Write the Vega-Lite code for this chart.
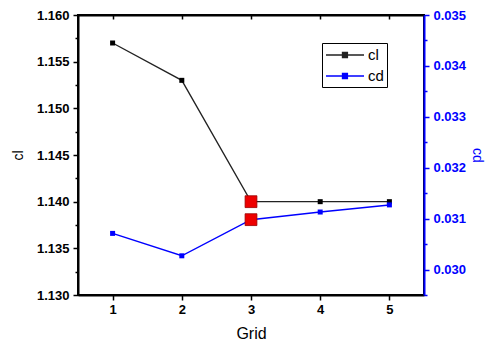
{
  "$schema": "https://vega.github.io/schema/vega-lite/v6.json",
  "width": 346,
  "height": 280,
  "autosize": {"type": "none"},
  "padding": {"left": 78, "top": 15, "right": 64, "bottom": 53},
  "background": "white",
  "config": {
    "view": {"stroke": "black", "strokeWidth": 2},
    "axis": {
      "grid": false,
      "labelFont": "Liberation Sans",
      "labelFontWeight": "bold",
      "labelFontSize": 13,
      "titleFont": "Liberation Sans",
      "titleFontWeight": "normal",
      "domainWidth": 2,
      "tickWidth": 1.5
    }
  },
  "data": {
    "values": [
      {"grid": 1, "cl": 1.157, "cd": 0.03071},
      {"grid": 2, "cl": 1.153, "cd": 0.03027},
      {"grid": 3, "cl": 1.140, "cd": 0.03098},
      {"grid": 4, "cl": 1.140, "cd": 0.03113},
      {"grid": 5, "cl": 1.140, "cd": 0.03127}
    ]
  },
  "layer": [
    {
      "encoding": {
        "x": {
          "field": "grid",
          "type": "quantitative",
          "scale": {"domain": [0.5, 5.5], "nice": false, "zero": false},
          "axis": {
            "title": "Grid",
            "titleFontSize": 16,
            "titlePadding": 9,
            "values": [1, 2, 3, 4, 5],
            "format": "d",
            "domainColor": "black",
            "tickColor": "black",
            "tickSize": 5,
            "labelPadding": 3
          }
        },
        "y": {
          "field": "cl",
          "type": "quantitative",
          "scale": {"domain": [1.13, 1.16], "nice": false, "zero": false},
          "axis": {
            "title": "cl",
            "titleFontSize": 14,
            "titlePadding": 11,
            "values": [1.13, 1.1325, 1.135, 1.1375, 1.14, 1.1425, 1.145, 1.1475, 1.15, 1.1525, 1.155, 1.1575, 1.16],
            "labelExpr": "abs(datum.value*200 - round(datum.value*200)) < 0.01 ? format(datum.value, '.3f') : ''",
            "tickSize": {"condition": {"test": "abs(datum.value*200 - round(datum.value*200)) < 0.01", "value": 5}, "value": 3},
            "domainColor": "black",
            "tickColor": "black",
            "labelPadding": 4
          }
        }
      },
      "layer": [
        {
          "mark": {"type": "line", "strokeWidth": 1.3},
          "encoding": {
            "color": {
              "datum": "cl",
              "scale": {"domain": ["cl", "cd"], "range": ["#222222", "blue"]},
              "legend": {
                "title": null,
                "orient": "none",
                "legendX": 244,
                "legendY": 28,
                "padding": 3,
                "strokeColor": "black",
                "fillColor": "white",
                "labelFont": "Liberation Sans",
                "labelFontSize": 15,
                "labelOffset": 25,
                "rowPadding": 4,
                "symbolSize": 256,
                "symbolStrokeWidth": 1.3,
                "symbolType": "M-1,0H3.75M1.06,-0.31H1.68V0.31H1.06Z",
                "encode": {"symbols": {"update": {"fill": {"scale": "color", "field": "value"}}}}
              }
            }
          }
        },
        {
          "mark": {"type": "point", "shape": "square", "filled": true, "size": 25, "color": "black", "opacity": 1}
        },
        {
          "transform": [{"filter": "datum.grid == 3"}],
          "mark": {"type": "point", "shape": "square", "filled": true, "size": 140, "color": "#ee0000", "stroke": "#990000", "strokeWidth": 0.8, "opacity": 1}
        }
      ]
    },
    {
      "encoding": {
        "x": {
          "field": "grid",
          "type": "quantitative",
          "scale": {"domain": [0.5, 5.5], "nice": false, "zero": false},
          "axis": {
            "orient": "top",
            "title": null,
            "labels": false,
            "values": [1, 2, 3, 4, 5],
            "domainColor": "black",
            "tickColor": "black",
            "tickSize": -4
          }
        },
        "y": {
          "field": "cd",
          "type": "quantitative",
          "scale": {"domain": [0.0295, 0.035], "nice": false, "zero": false},
          "axis": {
            "orient": "right",
            "title": "cd",
            "titleColor": "blue",
            "titleFontSize": 14,
            "titlePadding": 4,
            "values": [0.0295, 0.03, 0.0305, 0.031, 0.0315, 0.032, 0.0325, 0.033, 0.0335, 0.034, 0.0345, 0.035],
            "labelExpr": "abs(datum.value*1000 - round(datum.value*1000)) < 0.01 ? format(datum.value, '.3f') : ''",
            "tickSize": {"condition": {"test": "abs(datum.value*1000 - round(datum.value*1000)) < 0.01", "value": 5}, "value": 3},
            "domainColor": "blue",
            "tickColor": "blue",
            "labelColor": "blue",
            "labelPadding": 4
          }
        }
      },
      "layer": [
        {
          "mark": {"type": "line", "strokeWidth": 1.5},
          "encoding": {"color": {"datum": "cd"}}
        },
        {
          "mark": {"type": "point", "shape": "square", "filled": true, "size": 25, "color": "blue", "opacity": 1}
        },
        {
          "transform": [{"filter": "datum.grid == 3"}],
          "mark": {"type": "point", "shape": "square", "filled": true, "size": 140, "color": "#ee0000", "stroke": "#990000", "strokeWidth": 0.8, "opacity": 1}
        }
      ]
    }
  ],
  "resolve": {
    "scale": {"y": "independent"},
    "axis": {"x": "independent", "y": "independent"}
  }
}
